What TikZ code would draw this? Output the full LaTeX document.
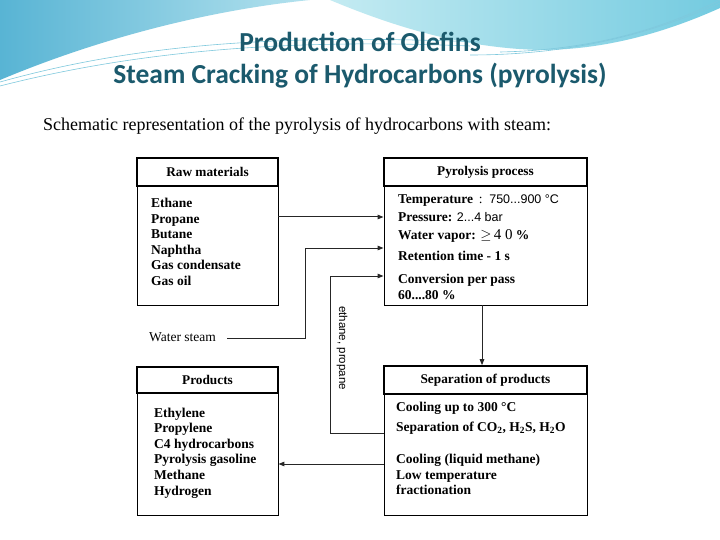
\documentclass[tikz,border=0pt]{standalone}
\usepackage{fontspec}
\setmainfont{Liberation Serif}
\newfontfamily\titlefont{Carlito}
\newfontfamily\arialfont{Liberation Sans}
\usetikzlibrary{arrows.meta}
\definecolor{titleteal}{HTML}{1B5A6D}
\definecolor{wavedark}{HTML}{58B4D4}
\definecolor{wavelight}{HTML}{B4E2EE}
\definecolor{cyanlight}{HTML}{C4EBF2}
\definecolor{cyandark}{HTML}{74CBE0}
\definecolor{waveline}{HTML}{7FC9DD}
\begin{document}
\begin{tikzpicture}[x=1pt,y=-1pt,
  hdr/.style={draw=black,line width=1.6pt,inner sep=0pt,font=\fontsize{13.3}{15}\selectfont\bfseries},
  bodybox/.style={draw=black,line width=0.9pt,inner sep=0pt},
  item/.style={anchor=base west,inner sep=0pt,font=\fontsize{13.5}{15}\selectfont\bfseries},
  conn/.style={line width=1pt,draw=black!85},
  arr/.style={conn,-{Triangle[length=6pt,width=4.5pt]}}]
\useasboundingbox (0,0) rectangle (720,540);
\fill[white] (0,0) rectangle (720,540);
% decorative waves
\shade[left color=wavedark,right color=wavelight] (0,0) -- (310,0) .. controls (210,10) and (100,38) .. (0,80) -- cycle;
\shade[left color=cyanlight,right color=cyandark] (330,0) -- (720,0) -- (720,8) .. controls (660,35) and (600,50) .. (540,50) .. controls (460,48) and (390,25) .. (330,0) -- cycle;
\draw[waveline,line width=0.6pt] (0,82) .. controls (150,40) and (300,35) .. (480,42);
\draw[waveline,line width=0.6pt] (0,86) .. controls (160,45) and (320,40) .. (470,46);
\draw[waveline,line width=0.6pt] (470,55) .. controls (580,55) and (660,30) .. (720,3);
\draw[waveline,line width=0.6pt] (500,52) .. controls (600,50) and (670,25) .. (720,0);
% titles
\node[anchor=base,text=titleteal,font=\titlefont\bfseries\fontsize{27.5}{30}\selectfont,inner sep=0pt] (t1) at (360,52) {Production of Olefins};
\node[anchor=base,text=titleteal,font=\titlefont\bfseries\fontsize{27.5}{30}\selectfont,inner sep=0pt] (t2) at (360,84) {Steam Cracking of Hydrocarbons (pyrolysis)};
\node[anchor=base west,inner sep=0pt,font=\fontsize{18}{20}\selectfont] (sub) at (43,131) {Schematic representation of the pyrolysis of hydrocarbons with steam:};
% boxes
\node[bodybox,minimum width=141pt,minimum height=119pt] (rawbody) at (207.5,245.5) {};
\node[hdr,minimum width=141pt,minimum height=28pt] (rawhdr) at (207.5,172) {Raw materials};
\node[bodybox,minimum width=203pt,minimum height=119pt] (pyrbody) at (485.5,245.5) {};
\node[hdr,minimum width=203pt,minimum height=28pt] (pyrhdr) at (485.5,172) {Pyrolysis process};
\node[bodybox,minimum width=141pt,minimum height=122pt] (prodbody) at (207.5,454) {};
\node[hdr,minimum width=141pt,minimum height=26pt] (prodhdr) at (207.5,380) {Products};
\node[bodybox,minimum width=203pt,minimum height=121pt] (sepbody) at (485.5,454.5) {};
\node[hdr,minimum width=203pt,minimum height=28pt] (sephdr) at (485.5,380) {Separation of products};
% raw materials list
\foreach \t [count=\i] in {Ethane,Propane,Butane,Naphtha,Gas condensate,Gas oil}
  \node[item] (raw\i) at (151,{207.5+15.6*(\i-1)}) {\t};
% products list
\foreach \t [count=\i] in {Ethylene,Propylene,C4 hydrocarbons,Pyrolysis gasoline,Methane,Hydrogen}
  \node[item] (prod\i) at (154,{417+15.6*(\i-1)}) {\t};
% pyrolysis list
\node[item] (pyr1) at (398,204) {Temperature\ \,{\mdseries:}\ \ {\arialfont\mdseries\fontsize{12.5}{14}\selectfont 750...900 °C}};
\node[item] (pyr2) at (398,222) {Pressure: {\arialfont\mdseries\fontsize{12.5}{14}\selectfont 2...4 bar}};
\node[item] (pyr3) at (398,240) {Water vapor: {\mdseries$\geq$\,\fontsize{15}{16}\selectfont 4 0} \%};
\node[item] (pyr4) at (398,260) {Retention time - 1 s};
\node[item] (pyr5) at (398,283) {Conversion per pass};
\node[item] (pyr6) at (398,299) {60....80 \%};
% separation list
\node[item] (sep1) at (396,411) {Cooling up to 300 °C};
\node[item] (sep2) at (396,431) {Separation of CO\textsubscript{2}, H\textsubscript{2}S, H\textsubscript{2}O};
\node[item] (sep3) at (396,463) {Cooling (liquid methane)};
\node[item] (sep4) at (396,479) {Low temperature};
\node[item] (sep5) at (396,494) {fractionation};
% water steam and recycle label
\node[anchor=base west,inner sep=0pt,font=\fontsize{13.5}{15}\selectfont] (ws) at (149,341.5) {Water steam};
\node[rotate=-90,inner sep=0pt,font=\arialfont\fontsize{11.5}{13}\selectfont] (recycle) at (342,348) {ethane, propane};
% helper levels
\coordinate (y217) at (0,217);
\coordinate (y248) at (0,248);
\coordinate (y276) at (0,276);
\coordinate (y338) at (0,338);
\coordinate (y433) at (0,433);
\coordinate (y464) at (0,464);
% connectors
\draw[arr] (rawbody.east |- y217) -- (pyrbody.west |- y217);
\draw[conn] (ws.east |- y338) ++(11pt,0) -- (305,338) -- (305,248);
\draw[arr] (305,248) -- (pyrbody.west |- y248);
\draw[arr] (sepbody.west |- y433) -- (330,433) -- (330,276) -- (pyrbody.west |- y276);
\draw[arr] (sepbody.west |- y464) -- (prodbody.east |- y464);
\draw[arr] ([xshift=-3.5pt]pyrbody.south) -- ([xshift=-3.5pt]sephdr.north);
\end{tikzpicture}
\end{document}
